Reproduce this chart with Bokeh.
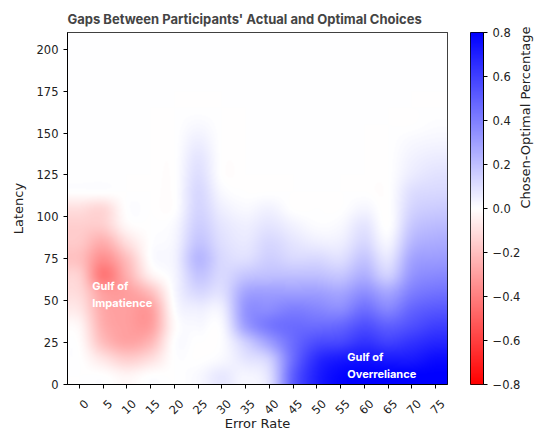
import math
import numpy as np
from bokeh.plotting import figure
from bokeh.layouts import row
from bokeh.models import LinearColorMapper, FixedTicker, LinearAxis, Range1d, CustomLabelingPolicy
from bokeh.core.properties import value
from bokeh.embed import file_html
from bokeh.resources import INLINE

# ---------------- data ----------------
error_rates = [0, 5, 10, 15, 20, 25, 30, 35, 40, 45, 50, 55, 60, 65, 70, 75]
latency_bins = [5, 15, 25, 35, 45, 55, 65, 75, 85, 95, 105, 115, 125, 135, 145, 155, 165, 175, 185, 195, 205]
latency_ticks = [0, 25, 50, 75, 100, 125, 150, 175, 200]
cbar_ticks = [-0.8, -0.6, -0.4, -0.2, 0.0, 0.2, 0.4, 0.6, 0.8]

lat_5   = [0.00, 0.00, -0.03, 0.00, 0.00, 0.02, 0.07, 0.03, 0.10, 0.50, 0.70, 0.78, 0.80, 0.80, 0.80, 0.80]
lat_15  = [0.00, -0.08, -0.15, -0.10, 0.00, 0.00, 0.02, 0.08, 0.15, 0.46, 0.66, 0.72, 0.74, 0.72, 0.72, 0.76]
lat_25  = [-0.01, -0.20, -0.28, -0.22, 0.00, 0.00, 0.01, 0.15, 0.30, 0.46, 0.56, 0.58, 0.64, 0.60, 0.64, 0.68]
lat_35  = [-0.03, -0.25, -0.30, -0.30, -0.02, 0.02, 0.02, 0.30, 0.42, 0.46, 0.46, 0.48, 0.55, 0.50, 0.55, 0.60]
lat_45  = [-0.08, -0.27, -0.30, -0.30, 0.00, 0.05, 0.05, 0.33, 0.36, 0.40, 0.38, 0.36, 0.45, 0.38, 0.48, 0.52]
lat_55  = [-0.12, -0.30, -0.30, -0.20, 0.02, 0.12, 0.10, 0.28, 0.30, 0.30, 0.30, 0.28, 0.35, 0.28, 0.40, 0.44]
lat_65  = [-0.15, -0.42, -0.25, -0.05, 0.03, 0.18, 0.12, 0.18, 0.20, 0.20, 0.20, 0.18, 0.25, 0.15, 0.33, 0.37]
lat_75  = [-0.20, -0.35, -0.20, 0.00, 0.04, 0.22, 0.12, 0.10, 0.15, 0.12, 0.12, 0.10, 0.18, 0.08, 0.28, 0.31]
lat_85  = [-0.17, -0.25, -0.10, 0.00, 0.03, 0.18, 0.10, 0.07, 0.12, 0.08, 0.05, 0.05, 0.12, 0.03, 0.22, 0.26]
lat_95  = [-0.15, -0.15, -0.02, 0.00, 0.02, 0.15, 0.08, 0.05, 0.08, 0.04, 0.01, 0.02, 0.08, 0.00, 0.17, 0.21]
lat_105 = [-0.10, -0.12, 0.00, 0.00, 0.00, 0.13, 0.05, 0.02, 0.04, 0.00, 0.00, 0.00, 0.03, 0.00, 0.13, 0.16]
lat_115 = [0.00, 0.00, 0.00, 0.00, 0.00, 0.12, 0.02, 0.00, 0.00, 0.00, 0.00, 0.00, 0.00, 0.00, 0.10, 0.12]
lat_125 = [0.00, 0.00, 0.00, 0.00, 0.00, 0.10, 0.00, 0.00, 0.00, 0.00, 0.00, 0.00, 0.00, 0.00, 0.06, 0.09]
lat_135 = [0.00, 0.00, 0.00, 0.00, 0.00, 0.08, 0.00, 0.00, 0.00, 0.00, 0.00, 0.00, 0.00, 0.00, 0.04, 0.06]
lat_145 = [0.00, 0.00, 0.00, 0.00, 0.00, 0.05, 0.00, 0.00, 0.00, 0.00, 0.00, 0.00, 0.00, 0.00, 0.02, 0.03]
lat_155 = [0.00, 0.00, 0.00, 0.00, 0.00, 0.02, 0.00, 0.00, 0.00, 0.00, 0.00, 0.00, 0.00, 0.00, 0.00, 0.01]
lat_165 = [0.0] * 16
lat_175 = [0.0] * 16
lat_185 = [0.0] * 16
lat_195 = [0.0] * 16
lat_205 = [0.0] * 16

grid = np.array([lat_5, lat_15, lat_25, lat_35, lat_45, lat_55, lat_65, lat_75, lat_85, lat_95,
                 lat_105, lat_115, lat_125, lat_135, lat_145, lat_155, lat_165, lat_175, lat_185,
                 lat_195, lat_205], dtype=float)

annotations_text = ["Gulf of\nImpatience", "Gulf of\nOverreliance"]
annotations_x = [2.7, 56.4]
annotations_y = [53.5, 11.3]

# ---------------- rendering helpers (bicubic display smoothing, like imshow) ----------------
def cubic_weights(n_in, n_out, a=-0.5):
    W = np.zeros((n_out, n_in))
    s = (np.arange(n_out) + 0.5) * n_in / n_out - 0.5
    i0 = np.floor(s).astype(int)
    for k in range(-1, 3):
        idx = i0 + k
        t = np.abs(s - idx)
        w = np.where(t <= 1, (a + 2) * t**3 - (a + 3) * t**2 + 1,
                     np.where(t < 2, a * t**3 - 5 * a * t**2 + 8 * a * t - 4 * a, 0.0))
        idx_c = np.clip(idx, 0, n_in - 1)
        for r in range(n_out):
            W[r, idx_c[r]] += w[r]
    return W

FRAME_W, FRAME_H = 380, 352
Wy = cubic_weights(grid.shape[0], FRAME_H)
Wx = cubic_weights(grid.shape[1], FRAME_W)
smooth = Wy @ grid @ Wx.T

palette = []
for k in range(256):
    t = k / 255
    if t < 0.5:
        c = int(round(255 * 2 * t))
        palette.append("#%02x%02x%02x" % (255, c, c))
    else:
        c = int(round(255 * (2 - 2 * t)))
        palette.append("#%02x%02x%02x" % (c, c, 255))
mapper = LinearColorMapper(palette=palette, low=-0.8, high=0.8)

x0 = error_rates[0] - 2.5
x1 = error_rates[-1] + 2.5
y0 = latency_bins[0] - 5
y1 = latency_bins[-1] + 5

TICK_FONT = "11.5px"
TXT = "#222222"

p = figure(width=449, height=434, x_range=(x0, x1), y_range=(y0, y1),
           output_backend="svg", toolbar_location=None,
           min_border_left=67, min_border_right=2, min_border_top=32, min_border_bottom=50)
p.image(image=[smooth], x=x0, y=y0, dw=x1 - x0, dh=y1 - y0, color_mapper=mapper)

p.title.text = "Gaps Between Participants' Actual and Optimal Choices"
p.title.text_font = "Inter"
p.title.text_font_style = "bold"
p.title.text_font_size = "13px"
p.title.align = "left"
p.title.offset = 0
p.title.standoff = 12

p.grid.visible = False
p.outline_line_color = "black"
p.outline_line_width = 1
p.background_fill_color = "white"

for ax in (p.xaxis[0], p.yaxis[0]):
    ax.axis_line_color = "black"
    ax.major_tick_line_color = "black"
    ax.major_tick_out = 4
    ax.major_tick_in = 0
    ax.minor_tick_line_color = None
    ax.major_label_text_font = "DejaVu Sans"
    ax.major_label_text_font_size = TICK_FONT
    ax.major_label_text_color = TXT
    ax.axis_label_text_font = "DejaVu Sans"
    ax.axis_label_text_font_size = "13px"
    ax.axis_label_text_font_style = "normal"
    ax.axis_label_text_color = TXT

# main x axis: tick marks only (labels are drawn by the label axis below)
p.xaxis.ticker = FixedTicker(ticks=error_rates)
p.xaxis.major_label_standoff = 0
p.xaxis.major_label_text_font_size = "1px"
p.xaxis.major_label_policy = CustomLabelingPolicy(code="if (false) { yield 0 }")

# label axis: same ticks, labels centred under ticks like matplotlib's rotated labels
shift = 1.45
p.extra_x_ranges = {"lab": Range1d(x0 - shift, x1 - shift)}
lab_ax = LinearAxis(x_range_name="lab", ticker=FixedTicker(ticks=error_rates),
                    axis_label="Error Rate")
lab_ax.axis_line_color = None
lab_ax.major_tick_line_color = None
lab_ax.major_tick_out = 0
lab_ax.major_tick_in = 0
lab_ax.minor_tick_line_color = None
lab_ax.major_label_orientation = math.pi / 4
lab_ax.major_label_standoff = 9
lab_ax.major_label_text_font = "DejaVu Sans"
lab_ax.major_label_text_font_size = TICK_FONT
lab_ax.major_label_text_color = TXT
lab_ax.axis_label_text_font = "DejaVu Sans"
lab_ax.axis_label_text_font_size = "13px"
lab_ax.axis_label_text_font_style = "normal"
lab_ax.axis_label_text_color = TXT
lab_ax.axis_label_standoff = -5
p.add_layout(lab_ax, "below")

p.yaxis.ticker = FixedTicker(ticks=latency_ticks)
p.yaxis.axis_label = "Latency"
p.yaxis.axis_label_standoff = 8

p.text(x=annotations_x, y=annotations_y, text=annotations_text,
       text_color="white", text_font=value("Inter"), text_font_style="bold",
       text_font_size="11px", text_baseline="middle", text_align="left",
       text_line_height=1.2)

# ---------------- colour bar ----------------
cb = figure(width=94, height=434, x_range=(0, 1), y_range=(-0.8, 0.8),
            output_backend="svg", toolbar_location=None, y_axis_location="right",
            min_border_left=21, min_border_right=55, min_border_top=32, min_border_bottom=50)
grad = np.linspace(-0.8, 0.8, 512).reshape(512, 1)
cb.image(image=[grad], x=0, y=-0.8, dw=1, dh=1.6, color_mapper=mapper)
cb.xaxis.visible = False
cb.grid.visible = False
cb.outline_line_color = "black"
cb.outline_line_width = 1
yax = cb.yaxis[0]
yax.ticker = FixedTicker(ticks=cbar_ticks)
yax.major_label_overrides = {t: ("%.1f" % t).replace("-", "\u2212") for t in cbar_ticks}
yax.axis_line_color = "black"
yax.major_tick_out = 4
yax.major_tick_in = 0
yax.minor_tick_line_color = None
yax.major_label_standoff = 5
yax.major_label_text_font = "DejaVu Sans"
yax.major_label_text_font_size = TICK_FONT
yax.major_label_text_color = TXT
yax.axis_label = "Chosen-Optimal Percentage"
yax.axis_label_text_font = "DejaVu Sans"
yax.axis_label_text_font_size = "13px"
yax.axis_label_text_font_style = "normal"
yax.axis_label_text_color = TXT
yax.axis_label_standoff = 2
if "axis_label_orientation" in yax.properties():
    yax.axis_label_orientation = math.pi / 2

layout = row(p, cb)
open("out.html", "w").write(file_html(layout, INLINE))
